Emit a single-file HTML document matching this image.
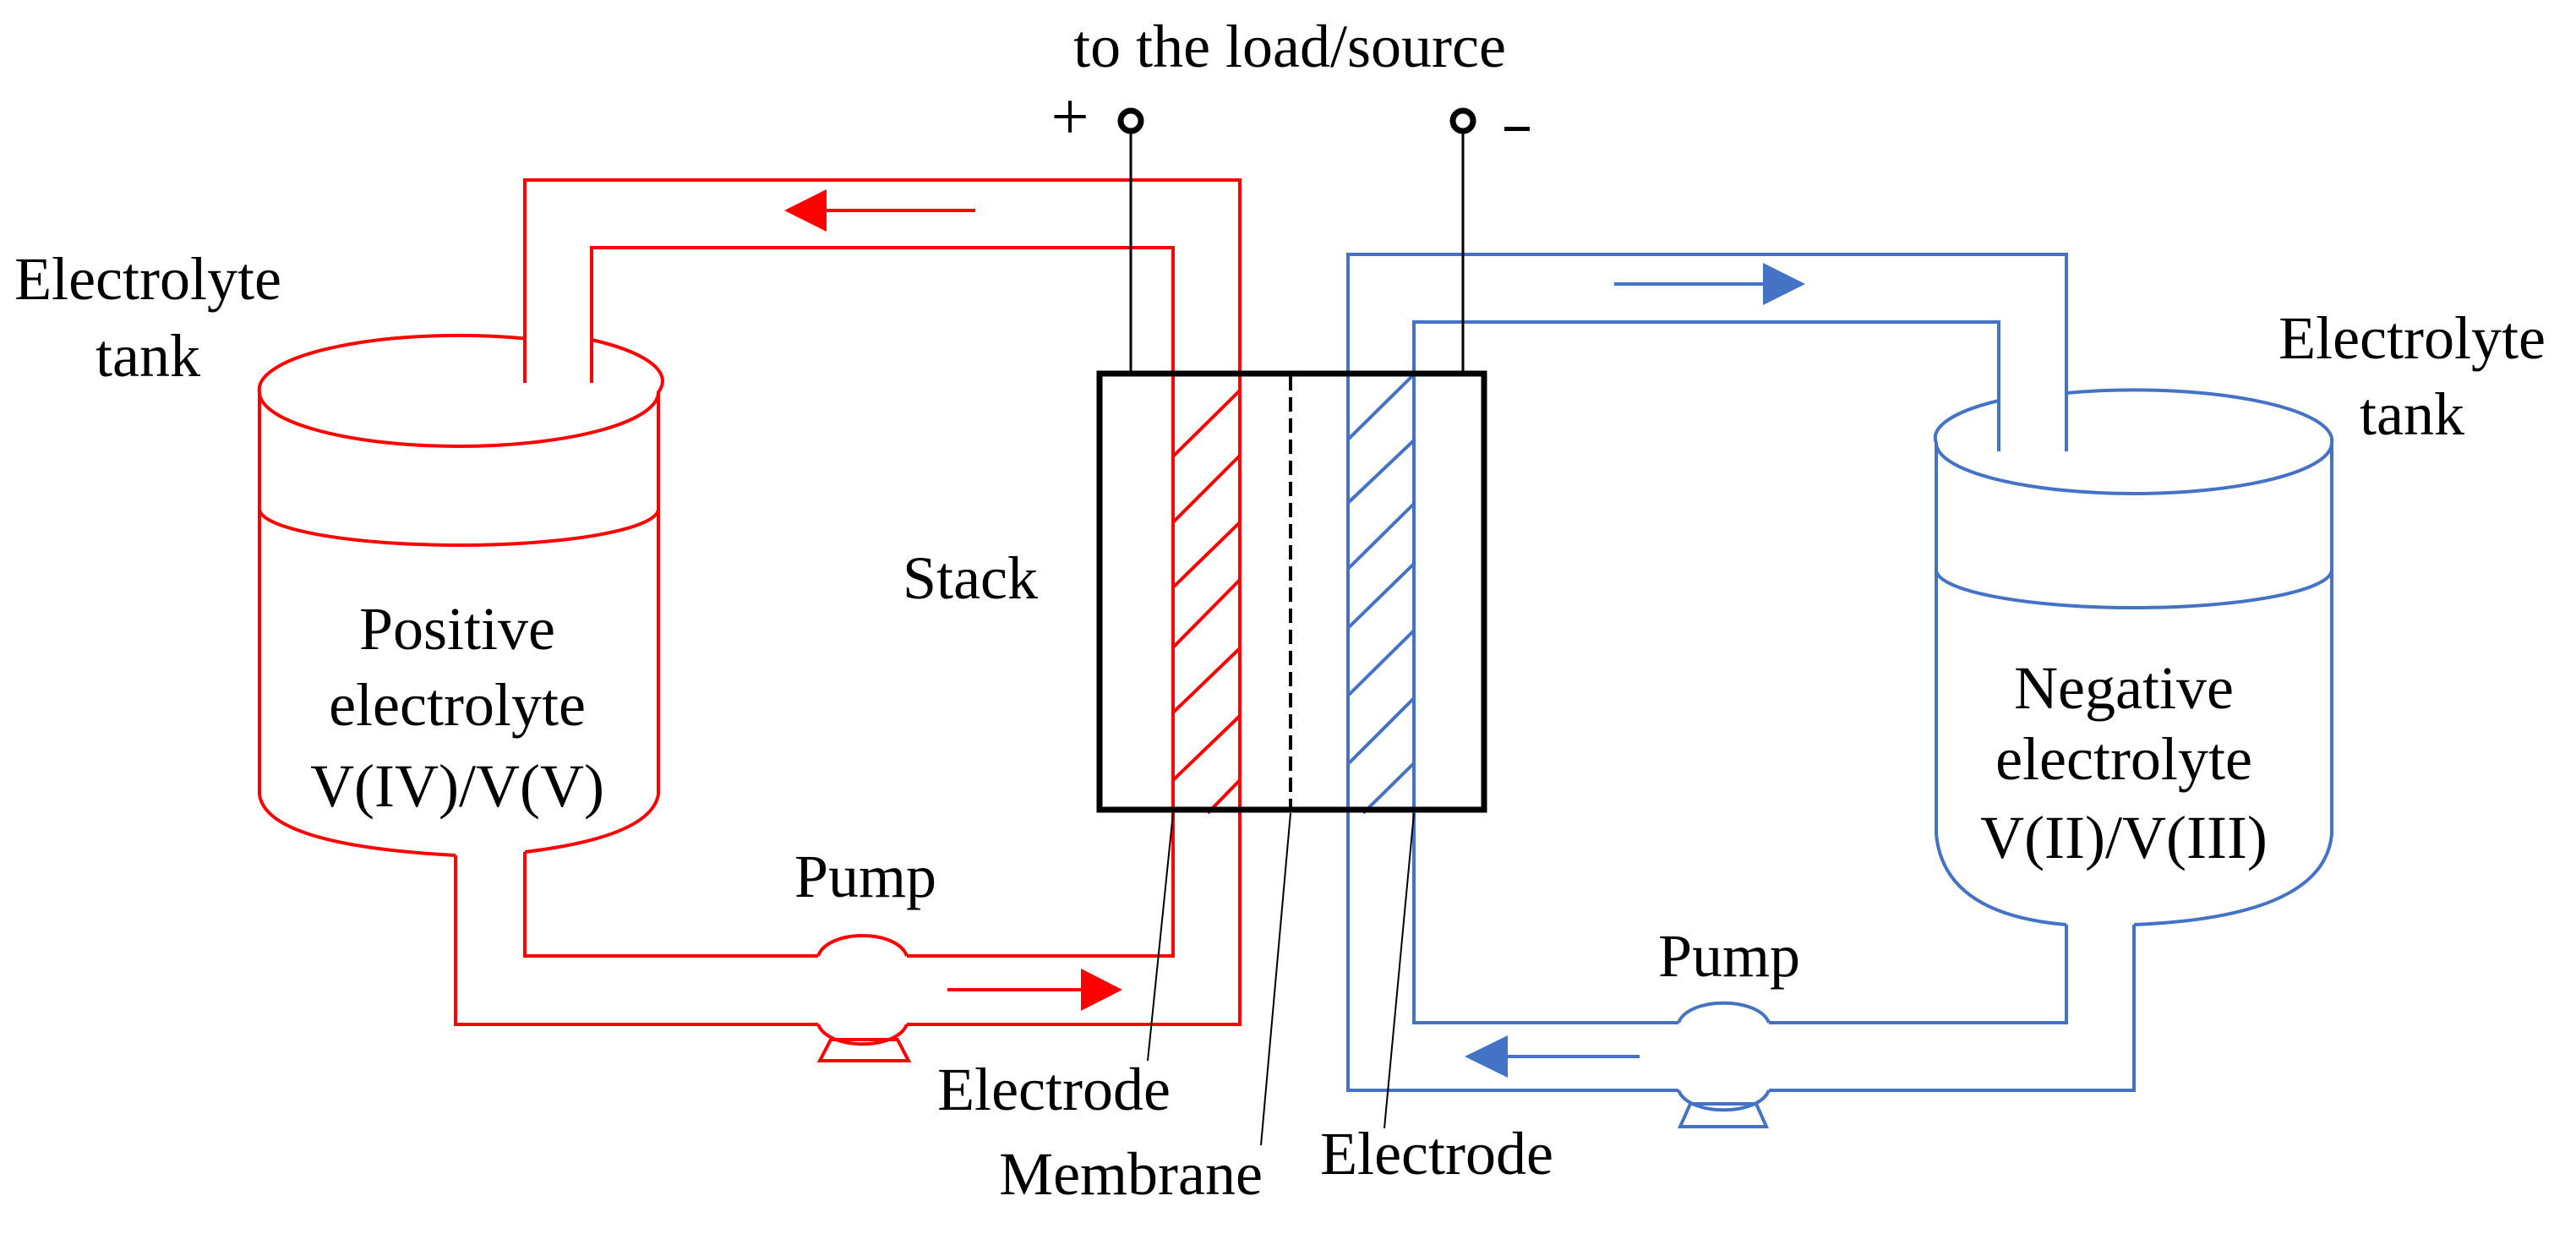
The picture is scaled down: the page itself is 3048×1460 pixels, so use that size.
<!DOCTYPE html>
<html><head><meta charset="utf-8"><style>
html,body{margin:0;padding:0;background:#fff;}
svg{display:block;}
text{font-family:"Liberation Serif",serif;font-size:72px;fill:#000;}
</style></head><body>
<svg width="3048" height="1460" viewBox="0 0 3048 1460" xmlns="http://www.w3.org/2000/svg">
<rect width="3048" height="1460" fill="#fff"/>
<!-- RED SIDE -->
<g fill="none" stroke="#ff0000" stroke-width="4">
  <path d="M621,400.5 A236,64 0 0 0 307,464 A236,64 0 0 0 779,464 A236,64 0 0 0 700,402"/>
  <path d="M307,464 L307,940"/>
  <path d="M779,464 L779,940"/>
  <path d="M307,602 A236,43 0 0 0 779,602"/>
  <path d="M307,940 Q315,1000 539,1012"/>
  <path d="M621,1008 Q770,990 779,940"/>
  <polyline points="621,453 621,213 1467,213 1467,1212 1073,1212"/>
  <polyline points="968,1212 539,1212 539,1012"/>
  <polyline points="700,453 700,293 1388,293 1388,1131 1073,1131"/>
  <polyline points="968,1131 621,1131 621,1008"/>
  <path d="M968,1131 C980,1099 1061,1099 1073,1131"/>
  <path d="M968,1212 C980,1243 1061,1243 1073,1212"/>
  <polygon points="983,1230 970,1255 1075,1255 1062,1230"/>
  <line x1="1154" y1="249" x2="970" y2="249"/>
  <line x1="1121" y1="1171" x2="1285" y2="1171"/>
  <line x1="1388" y1="540" x2="1467" y2="462"/>
  <line x1="1388" y1="618" x2="1467" y2="539"/>
  <line x1="1388" y1="695" x2="1467" y2="618"/>
  <line x1="1388" y1="766" x2="1467" y2="686"/>
  <line x1="1388" y1="843" x2="1467" y2="767"/>
  <line x1="1388" y1="923" x2="1467" y2="847"/>
  <line x1="1429" y1="962" x2="1467" y2="923"/>
</g>
<polygon points="928,249 978,224 978,274" fill="#ff0000"/>
<polygon points="1328,1171 1279,1146 1279,1196" fill="#ff0000"/>
<!-- BLUE SIDE -->
<g fill="none" stroke="#4472c4" stroke-width="4">
  <path d="M2365,474 A234,60 0 0 0 2291,524 A234,60 0 0 0 2759,524 A234,60 0 0 0 2445,465"/>
  <path d="M2291,524 L2291,987"/>
  <path d="M2759,524 L2759,987"/>
  <path d="M2291,674 A234,45 0 0 0 2759,674"/>
  <path d="M2291,987 Q2300,1082 2445,1094"/>
  <path d="M2525,1094 Q2750,1085 2759,987"/>
  <polyline points="2445,534 2445,301 1595,301 1595,1290 1986,1290"/>
  <polyline points="2093,1290 2525,1290 2525,1094"/>
  <polyline points="2365,534 2365,381 1673,381 1673,1210 1986,1210"/>
  <polyline points="2093,1210 2445,1210 2445,1094"/>
  <path d="M1986,1210 C1998,1179 2081,1179 2093,1210"/>
  <path d="M1986,1290 C1998,1321 2081,1321 2093,1290"/>
  <polygon points="2000,1306 1988,1333 2090,1333 2078,1306"/>
  <line x1="1910" y1="336" x2="2090" y2="336"/>
  <line x1="1940" y1="1250" x2="1775" y2="1250"/>
  <line x1="1595" y1="520" x2="1674" y2="442"/>
  <line x1="1595" y1="595" x2="1674" y2="520"/>
  <line x1="1595" y1="673" x2="1674" y2="595"/>
  <line x1="1595" y1="743" x2="1674" y2="666"/>
  <line x1="1595" y1="823" x2="1674" y2="745"/>
  <line x1="1595" y1="904" x2="1674" y2="825"/>
  <line x1="1613" y1="962" x2="1674" y2="902"/>
</g>
<polygon points="2136,336 2086,311 2086,361" fill="#4472c4"/>
<polygon points="1733,1250 1784,1225 1784,1275" fill="#4472c4"/>
<!-- STACK -->
<rect x="1301" y="442" width="455" height="516" fill="none" stroke="#000" stroke-width="7"/>
<line x1="1527" y1="445" x2="1527" y2="955" stroke="#000" stroke-width="4" stroke-dasharray="17,8"/>
<line x1="1338" y1="152" x2="1338" y2="442" stroke="#000" stroke-width="3"/>
<line x1="1731" y1="152" x2="1731" y2="442" stroke="#000" stroke-width="3"/>
<circle cx="1338" cy="143" r="12" fill="#fff" stroke="#000" stroke-width="7"/>
<circle cx="1731" cy="143" r="12" fill="#fff" stroke="#000" stroke-width="7"/>
<g stroke="#000" stroke-width="2">
  <line x1="1388" y1="962" x2="1358" y2="1255"/>
  <line x1="1527" y1="962" x2="1492" y2="1355"/>
  <line x1="1673" y1="962" x2="1638" y2="1335"/>
</g>
<!-- TEXT -->
<text x="1526" y="79" text-anchor="middle">to the load/source</text>
<text x="1266" y="165" text-anchor="middle" style="font-size:80px">+</text>
<rect x="1780" y="150" width="30" height="5" fill="#000"/>
<text x="175" y="354" text-anchor="middle">Electrolyte</text>
<text x="175" y="445" text-anchor="middle">tank</text>
<text x="2854" y="424" text-anchor="middle">Electrolyte</text>
<text x="2854" y="514" text-anchor="middle">tank</text>
<text x="1148" y="708" text-anchor="middle">Stack</text>
<text x="541" y="768" text-anchor="middle">Positive</text>
<text x="541" y="858" text-anchor="middle">electrolyte</text>
<text x="541" y="954" text-anchor="middle">V(IV)/V(V)</text>
<text x="2513" y="838" text-anchor="middle">Negative</text>
<text x="2513" y="922" text-anchor="middle">electrolyte</text>
<text x="2513" y="1015" text-anchor="middle">V(II)/V(III)</text>
<text x="1024" y="1061" text-anchor="middle">Pump</text>
<text x="2046" y="1155" text-anchor="middle">Pump</text>
<text x="1247" y="1313" text-anchor="middle">Electrode</text>
<text x="1338" y="1413" text-anchor="middle">Membrane</text>
<text x="1700" y="1389" text-anchor="middle">Electrode</text>
</svg>
</body></html>
